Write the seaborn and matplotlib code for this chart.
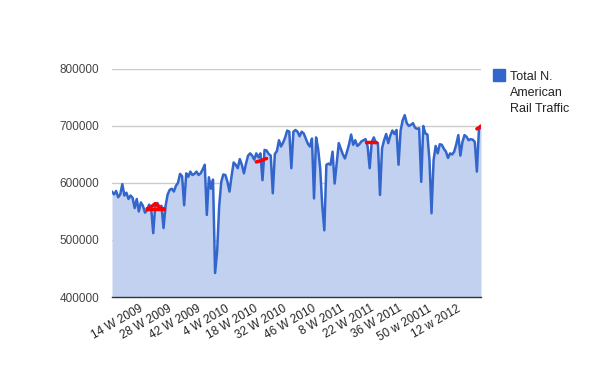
import numpy as np
import pandas as pd
import seaborn as sns
import matplotlib.pyplot as plt

# weekly carloads + intermodal, week 1 2009 .. week 24 2012
traffic = [
    585000, 580000, 586000, 575000, 580000, 598000, 578000, 583000, 572000, 578000,
    574000, 556000, 572000, 550000, 566000, 560000, 548000, 552000, 562000, 556000,
    512000, 562000, 565000, 558000, 560000, 521000, 560000, 580000, 588000, 590000,
    585000, 595000, 600000, 616000, 612000, 561000, 617000, 611000, 620000, 614000,
    616000, 620000, 614000, 617000, 624000, 632000, 544000, 610000, 590000, 606000,
    442000, 480000, 560000, 602000, 615000, 614000, 602000, 585000, 612000, 636000,
    632000, 626000, 642000, 632000, 617000, 634000, 648000, 652000, 648000, 641000,
    652000, 645000, 652000, 605000, 658000, 657000, 651000, 648000, 582000, 651000,
    656000, 675000, 664000, 671000, 680000, 692000, 690000, 626000, 690000, 693000,
    690000, 682000, 690000, 687000, 678000, 669000, 664000, 678000, 573000, 680000,
    660000, 625000, 560000, 517000, 632000, 634000, 632000, 655000, 599000, 635000,
    670000, 660000, 650000, 643000, 655000, 668000, 685000, 667000, 675000, 665000,
    668000, 673000, 675000, 677000, 664000, 626000, 672000, 680000, 670000, 670000,
    579000, 661000, 675000, 686000, 670000, 683000, 692000, 686000, 693000, 632000,
    692000, 710000, 719000, 705000, 700000, 702000, 705000, 697000, 695000, 696000,
    602000, 700000, 687000, 685000, 640000, 547000, 640000, 665000, 652000, 668000,
    667000, 660000, 655000, 644000, 652000, 650000, 655000, 668000, 684000, 648000,
    672000, 684000, 681000, 675000, 677000, 676000, 672000, 620000, 694000, 698000,
]

# short red highlight segments (start week index, values)
red_hump_start = 17
red_hump = [555000, 556000, 558000, 561000, 564000, 561000, 557000, 555000, 555000]
red_flat_start = 17
red_flat = [555000, 555000, 555000, 555000, 555000, 555000, 555000, 555000, 555000]
red2_start = 70
red2 = [637000, 638000, 639000, 640000, 642000, 643000]
red3_start = 123
red3 = [672000, 672000, 672000, 672000, 672000, 672000]
red4_start = 177
red4 = [695000, 697000, 700000]

tick_labels = ['14 W 2009', '28 W 2009', '42 W 2009', '4 W 2010', '18 W 2010',
               '32 W 2010', '46 W 2010', '8 W 2011', '22 W 2011', '36 W 2011',
               '50 w 20011', '12 w 2012']
first_tick = 13
tick_step = 14

df = pd.DataFrame({'week': np.arange(len(traffic)), 'traffic': traffic})

sns.set_style('white')
plt.rcParams['font.family'] = ['Liberation Sans', 'DejaVu Sans']

fig = plt.figure(figsize=(5.95, 3.68), dpi=100)
ax = fig.add_axes([112 / 595, 1 - 297 / 368, 369 / 595, 228 / 368])

ax.fill_between(df['week'], df['traffic'], 400000, color='#c2d1f0', lw=0, zorder=1)
sns.lineplot(data=df, x='week', y='traffic', ax=ax, color='#3366cc', lw=1.8, zorder=3)

for start, vals in [(red_hump_start, red_hump), (red_flat_start, red_flat),
                    (red2_start, red2), (red3_start, red3), (red4_start, red4)]:
    seg = pd.DataFrame({'week': np.arange(start, start + len(vals)), 'traffic': vals})
    sns.lineplot(data=seg, x='week', y='traffic', ax=ax, color='red', lw=2.5, zorder=4)

ax.set_xlim(0, len(traffic) - 1)
ax.set_ylim(400000, 800000)
ax.set_yticks([400000, 500000, 600000, 700000, 800000])
ax.set_yticklabels(['400000', '500000', '600000', '700000', '800000'],
                   fontsize=8.5, color='#444444')
ax.grid(axis='y', color='#cccccc', lw=1, zorder=0)
ax.set_axisbelow(True)

ticks = [first_tick + tick_step * k for k in range(len(tick_labels))]
ax.set_xticks(ticks)
ax.set_xticklabels(tick_labels, rotation=30, ha='right', va='top',
                   rotation_mode='anchor', fontsize=8.5, color='#222222')
ax.tick_params(axis='both', length=0)
ax.tick_params(axis='y', pad=9)
ax.tick_params(axis='x', pad=4)

for s in ['top', 'right', 'left']:
    ax.spines[s].set_visible(False)
ax.spines['bottom'].set_color('#333333')
ax.spines['bottom'].set_linewidth(1)
ax.spines['bottom'].set_zorder(5)
ax.set_xlabel('')
ax.set_ylabel('')

# legend on the right
fig.patches.append(plt.Rectangle((493 / 595, 1 - 81 / 368), 12 / 595, 12 / 368,
                                 transform=fig.transFigure, color='#3366cc'))
fig.text(510 / 595, 1 - 71 / 368, 'Total N.\nAmerican\nRail Traffic', fontsize=9,
         color='#222222', va='top', ha='left', linespacing=1.45)

fig.savefig('out.png', dpi=100)
